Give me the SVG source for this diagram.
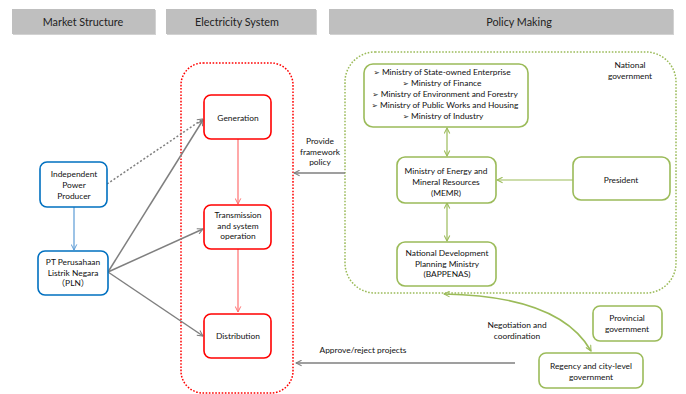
<svg xmlns="http://www.w3.org/2000/svg" width="686" height="394" viewBox="0 0 686 394">
<defs>
<style>
text{font-family:Lato,"Open Sans","Noto Sans CJK SC",sans-serif;font-size:8.4px;fill:#111;text-anchor:middle}
.hd{font-size:10.8px;fill:#222}
.hdr{fill:#bfbfbf}
.bl{font-family:"DejaVu Sans",sans-serif;font-size:7.5px}
.red{fill:#fff;stroke:#ff0000;stroke-width:1.6}
.blue{fill:#fff;stroke:#0070c0;stroke-width:1.6}
.grn{fill:#fff;stroke:#9bbb59;stroke-width:1.6}
.gray{stroke:#7f7f7f;stroke-width:1.5;fill:none}
.gl{stroke:#9bbb59;stroke-width:1.2;fill:none}
.rl{stroke:#ff6f6f;stroke-width:1.2;fill:none}
</style>
<marker id="ag" viewBox="0 0 10 10" refX="9" refY="5" markerWidth="7" markerHeight="7" orient="auto-start-reverse" markerUnits="userSpaceOnUse"><path d="M1,1 L9,5 L1,9" fill="none" stroke="#7f7f7f" stroke-width="1.5"/></marker>
<marker id="agr" viewBox="0 0 10 10" refX="9" refY="5" markerWidth="7" markerHeight="7" orient="auto-start-reverse" markerUnits="userSpaceOnUse"><path d="M1,1 L9,5 L1,9" fill="none" stroke="#9bbb59" stroke-width="1.5"/></marker>
<marker id="ar" viewBox="0 0 10 10" refX="9" refY="5" markerWidth="7" markerHeight="7" orient="auto" markerUnits="userSpaceOnUse"><path d="M1,1 L9,5 L1,9" fill="none" stroke="#ff6f6f" stroke-width="1.4"/></marker>
<marker id="ab" viewBox="0 0 10 10" refX="9" refY="5" markerWidth="7" markerHeight="7" orient="auto" markerUnits="userSpaceOnUse"><path d="M1,1 L9,5 L1,9" fill="none" stroke="#5b9bd5" stroke-width="1.4"/></marker>
</defs>
<rect width="686" height="394" fill="#fff"/>

<g id="headers">
<rect x="13" y="10" width="143" height="25" fill="#a6a6a6" opacity="0.5"/>
<rect class="hdr" x="12" y="9" width="143" height="25"/>
<text class="hd" x="83" y="25.5">Market Structure</text>
<rect x="167" y="10" width="150" height="25" fill="#a6a6a6" opacity="0.5"/>
<rect class="hdr" x="166" y="9" width="150" height="25"/>
<text class="hd" x="237" y="25.5">Electricity System</text>
<rect x="330" y="10" width="344" height="25" fill="#a6a6a6" opacity="0.5"/>
<rect class="hdr" x="329" y="9" width="344" height="25"/>
<text class="hd" x="519" y="25.5">Policy Making</text>
</g>

<g id="electricity-system">
<rect x="181" y="63" width="112" height="330" rx="22" fill="none" stroke="#ff0000" stroke-width="1.5" stroke-dasharray="1.6,1.6"/>
</g>
<g id="national-government">
<rect x="345" y="52" width="331" height="241" rx="30" fill="none" stroke="#9bbb59" stroke-width="1.5" stroke-dasharray="1.6,1.6"/>
<text x="630" y="68">National</text>
<text x="630" y="79">government</text>
</g>

<g id="connectors">
<line class="gray" x1="107" y1="184" x2="203" y2="119" stroke-dasharray="2,2" marker-end="url(#ag)"/>
<line class="gray" x1="108" y1="272" x2="203" y2="120" marker-end="url(#ag)"/>
<line class="gray" x1="108" y1="272" x2="203" y2="229" marker-end="url(#ag)"/>
<line class="gray" x1="108" y1="272" x2="203" y2="336" marker-end="url(#ag)"/>
<line x1="74" y1="207" x2="74" y2="250" stroke="#5b9bd5" stroke-width="1.2" marker-end="url(#ab)"/>
<line class="rl" x1="238" y1="139" x2="238" y2="204" marker-end="url(#ar)"/>
<line class="rl" x1="238" y1="249" x2="238" y2="312" marker-end="url(#ar)"/>
<line class="gray" x1="345" y1="173" x2="294" y2="173" marker-end="url(#ag)"/>
<line class="gray" x1="515" y1="363" x2="296" y2="363" marker-end="url(#ag)"/>
<line class="gl" x1="447" y1="128" x2="447" y2="156" marker-start="url(#agr)" marker-end="url(#agr)"/>
<line class="gl" x1="447" y1="203" x2="447" y2="241" marker-start="url(#agr)" marker-end="url(#agr)"/>
<line class="gl" x1="573" y1="180" x2="497" y2="180" marker-end="url(#agr)"/>
<path d="M444 294 Q560 296 591 351" stroke="#9bbb59" stroke-width="1.6" fill="none" marker-start="url(#agr)" marker-end="url(#agr)"/>
<text x="320" y="144">Provide</text>
<text x="320" y="154.5">framework</text>
<text x="320" y="165">policy</text>
<text x="363" y="353">Approve/reject projects</text>
<text x="517" y="328">Negotiation and</text>
<text x="517" y="338.5">coordination</text>
</g>

<g id="generation">
<rect class="red" x="204" y="95" width="67" height="44" rx="7"/>
<text x="238" y="121">Generation</text>
</g>
<g id="transmission">
<rect class="red" x="204" y="205" width="67" height="44" rx="7"/>
<text x="238" y="218">Transmission</text>
<text x="238" y="228.5">and system</text>
<text x="238" y="239">operation</text>
</g>
<g id="distribution">
<rect class="red" x="204" y="314" width="67" height="44" rx="7"/>
<text x="238" y="339">Distribution</text>
</g>

<g id="ipp">
<rect class="blue" x="40" y="162" width="67" height="45" rx="7"/>
<text x="74" y="177">Independent</text>
<text x="74" y="188">Power</text>
<text x="74" y="199">Producer</text>
</g>
<g id="pln">
<rect class="blue" x="38" y="251" width="70" height="44" rx="7"/>
<text x="73" y="265">PT Perusahaan</text>
<text x="73" y="275.5">Listrik Negara</text>
<text x="73" y="286">（PLN）</text>
</g>

<g id="ministries">
<rect class="grn" x="364" y="64" width="164" height="63" rx="9"/>
<text x="442" y="75"><tspan class="bl">➢</tspan> Ministry of State-owned Enterprise</text>
<text x="442" y="86"><tspan class="bl">➢</tspan> Ministry of Finance</text>
<text x="445" y="97"><tspan class="bl">➢</tspan> Ministry of Environment and Forestry</text>
<text x="445" y="108"><tspan class="bl">➢</tspan> Ministry of Public Works and Housing</text>
<text x="443" y="119"><tspan class="bl">➢</tspan> Ministry of Industry</text>
</g>
<g id="memr">
<rect class="grn" x="397" y="157" width="99" height="46" rx="8"/>
<text x="446" y="174">Ministry of Energy and</text>
<text x="446" y="185">Mineral Resources</text>
<text x="446" y="196">(MEMR)</text>
</g>
<g id="president">
<rect class="grn" x="573" y="157" width="97" height="43" rx="8"/>
<text x="621" y="183">President</text>
</g>
<g id="bappenas">
<rect class="grn" x="397" y="242" width="99" height="44" rx="8"/>
<text x="447" y="256">National Development</text>
<text x="447" y="266.5">Planning Ministry</text>
<text x="447" y="277">(BAPPENAS)</text>
</g>
<g id="provincial">
<rect class="grn" x="593" y="306" width="69" height="35" rx="7"/>
<text x="627" y="321">Provincial</text>
<text x="627" y="332">government</text>
</g>
<g id="regency">
<rect class="grn" x="539" y="353" width="104" height="35" rx="7"/>
<text x="591" y="369">Regency and city-level</text>
<text x="591" y="380">government</text>
</g>
</svg>
